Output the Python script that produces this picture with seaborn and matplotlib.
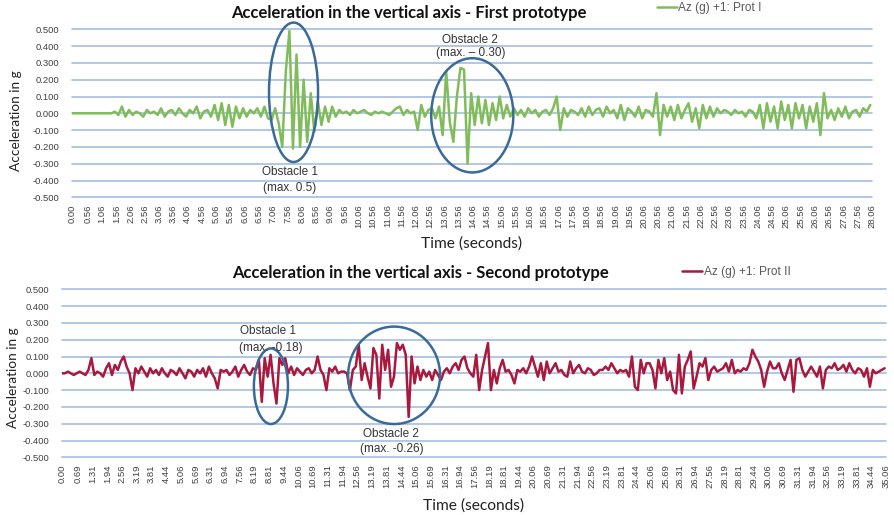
import numpy as np
import matplotlib
matplotlib.use("Agg")
import matplotlib.pyplot as plt
from matplotlib.patches import Ellipse
import seaborn as sns

step = 0.125  # seconds between the plotted samples

# Az (g) +1, first prototype -- one row per second
az_prot1 = [
    0.00, 0.00, 0.00, 0.00, 0.00, 0.00, 0.00, 0.00,
    0.00, 0.00, 0.00, 0.00, 0.01, -0.01, 0.04, -0.02,
    0.02, -0.01, 0.01, 0.00, -0.02, 0.02, 0.00, 0.01,
    -0.01, 0.03, -0.02, 0.01, 0.02, -0.01, 0.03, 0.00,
    -0.02, 0.02, 0.00, 0.04, -0.03, 0.01, 0.02, -0.02,
    0.05, -0.04, 0.06, -0.07, 0.05, -0.08, 0.04, -0.03,
    0.03, -0.02, 0.02, 0.00, 0.03, -0.02, 0.04, -0.03,
    -0.04, 0.03, -0.06, -0.20, 0.25, 0.49, -0.21, 0.35,
    -0.20, 0.20, -0.17, 0.12, -0.11, 0.07, -0.07, 0.04,
    -0.05, 0.04, -0.02, 0.02, 0.00, 0.01, -0.01, 0.02,
    0.00, 0.01, 0.02, 0.00, -0.01, 0.01, 0.00, 0.01,
    0.00, -0.01, 0.01, 0.03, 0.04, -0.01, 0.02, 0.00,
    0.01, -0.10, 0.05, -0.02, 0.02, 0.03, -0.03, 0.04,
    -0.13, 0.25, -0.05, -0.17, 0.10, 0.27, 0.26, -0.30,
    0.12, -0.07, 0.10, -0.06, 0.08, -0.07, 0.06, -0.04,
    0.10, -0.03, 0.05, -0.02, 0.03, -0.01, 0.02, -0.02,
    0.03, 0.00, 0.02, -0.02, 0.01, 0.02, -0.01, 0.03,
    0.10, -0.10, 0.03, -0.02, 0.02, 0.01, -0.01, 0.03,
    -0.02, 0.04, -0.01, 0.02, 0.03, -0.02, 0.04, 0.00,
    0.02, -0.03, 0.05, -0.04, 0.03, 0.01, -0.02, 0.04,
    -0.03, 0.02, 0.01, -0.02, 0.12, -0.13, 0.05, -0.02,
    0.04, -0.04, 0.05, -0.03, 0.02, 0.06, -0.05, 0.03,
    -0.09, 0.05, -0.03, 0.04, -0.02, 0.03, 0.00, 0.02,
    0.01, -0.01, 0.02, 0.00, 0.01, -0.02, 0.02, 0.01,
    -0.03, 0.05, -0.09, 0.06, -0.05, 0.04, -0.09, 0.07,
    -0.04, 0.05, -0.09, 0.06, -0.03, 0.05, -0.09, 0.04,
    -0.05, 0.06, -0.13, 0.12, -0.03, 0.02, -0.04, 0.03,
    -0.02, 0.04, -0.03, 0.01, 0.02, -0.02, 0.03, 0.01,
    0.05,
]

# Az (g) +1, second prototype -- one row per second
az_prot2 = [
    0.00, 0.00, 0.01, 0.00, -0.01, 0.00, 0.01, 0.00,
    -0.01, 0.02, 0.09, -0.01, 0.01, 0.00, -0.02, 0.03,
    0.06, -0.01, 0.05, 0.02, 0.07, 0.10, 0.04, 0.00,
    -0.10, 0.03, 0.00, 0.04, 0.01, -0.02, 0.03, 0.00,
    0.02, -0.01, 0.03, 0.00, -0.02, 0.02, 0.01, -0.01,
    0.03, 0.00, -0.03, 0.02, 0.01, -0.02, 0.02, 0.00,
    0.03, -0.02, 0.04, 0.00, -0.03, -0.09, 0.02, 0.01,
    0.02, -0.01, 0.01, 0.04, -0.02, 0.02, 0.05, 0.01,
    -0.01, 0.03, 0.02, 0.08, -0.17, 0.09, -0.02, 0.11,
    -0.06, -0.18, 0.09, 0.05, 0.09, 0.00, 0.04, -0.01,
    0.03, 0.01, -0.01, 0.02, 0.03, 0.00, 0.02, 0.10,
    0.02, -0.01, -0.10, 0.03, 0.01, 0.04, 0.00, 0.01,
    0.01, 0.00, -0.10, 0.02, 0.04, 0.17, -0.04, 0.06,
    -0.02, -0.09, 0.15, 0.11, -0.15, 0.17, 0.02, 0.14,
    -0.08, -0.02, 0.18, 0.14, 0.17, 0.11, -0.26, 0.10,
    -0.06, 0.04, -0.04, 0.02, -0.02, 0.01, -0.04, 0.02,
    -0.01, -0.04, 0.01, 0.03, 0.00, 0.04, 0.06, 0.02,
    0.08, 0.10, 0.03, 0.00, -0.02, 0.11, -0.10, 0.02,
    0.10, 0.18, -0.10, 0.02, -0.06, 0.03, 0.08, 0.01,
    0.02, -0.01, -0.06, 0.02, 0.01, 0.03, 0.00, 0.04,
    0.10, 0.04, -0.02, 0.06, -0.04, 0.07, 0.00, 0.03,
    0.06, 0.01, 0.02, -0.01, -0.02, 0.07, 0.00, 0.03,
    0.05, 0.01, 0.00, 0.03, 0.02, -0.01, 0.00, 0.02,
    0.02, 0.04, 0.02, 0.06, 0.03, 0.00, 0.02, 0.01,
    0.02, -0.02, 0.10, -0.08, -0.10, 0.08, 0.00, 0.06,
    0.06, 0.02, -0.09, 0.08, 0.00, 0.09, -0.04, 0.01,
    -0.10, -0.12, 0.11, -0.12, 0.04, 0.08, 0.13, -0.09,
    -0.02, 0.06, 0.04, 0.09, -0.04, 0.02, 0.04, 0.01,
    0.02, 0.03, 0.06, 0.01, 0.08, 0.00, 0.02, 0.01,
    0.03, 0.02, 0.06, 0.14, 0.10, 0.07, 0.02, -0.08,
    0.01, 0.07, 0.03, 0.03, 0.06, 0.00, -0.04, 0.02,
    0.08, -0.11, 0.08, 0.09, 0.02, -0.02, 0.01, 0.04,
    0.01, -0.02, 0.04, -0.09, 0.02, 0.04, 0.03, 0.06,
    0.02, 0.03, 0.05, 0.01, 0.06, 0.02, 0.00, 0.03,
    0.02, -0.02, 0.03, -0.08, 0.02, 0.00, 0.01, 0.02,
    0.03,
]

xticks_prot1 = ["0.00", "0.56", "1.06", "1.56", "2.06", "2.56", "3.06", "3.56", "4.06", "4.56",
                "5.06", "5.56", "6.06", "6.56", "7.06", "7.56", "8.06", "8.56", "9.06", "9.56",
                "10.06", "10.56", "11.06", "11.56", "12.06", "12.56", "13.06", "13.56", "14.06",
                "14.56", "15.06", "15.56", "16.06", "16.56", "17.06", "17.56", "18.06", "18.56",
                "19.06", "19.56", "20.06", "20.56", "21.06", "21.56", "22.06", "22.56", "23.06",
                "23.56", "24.06", "24.56", "25.06", "25.56", "26.06", "26.56", "27.06", "27.56",
                "28.06"]
xticks_prot2 = ["0.00", "0.69", "1.31", "1.94", "2.56", "3.19", "3.81", "4.44", "5.06", "5.69",
                "6.31", "6.94", "7.56", "8.19", "8.81", "9.44", "10.06", "10.69", "11.31", "11.94",
                "12.56", "13.19", "13.81", "14.44", "15.06", "15.69", "16.31", "16.94", "17.56",
                "18.19", "18.81", "19.44", "20.06", "20.69", "21.31", "21.94", "22.56", "23.19",
                "23.81", "24.44", "25.06", "25.69", "26.31", "26.94", "27.56", "28.19", "28.81",
                "29.44", "30.06", "30.69", "31.31", "31.94", "32.56", "33.19", "33.81", "34.44",
                "35.06"]
yticks = [-0.5, -0.4, -0.3, -0.2, -0.1, 0.0, 0.1, 0.2, 0.3, 0.4, 0.5]

sns.set_style("white")
plt.rcParams["font.family"] = ["Liberation Sans", "DejaVu Sans"]

GRID = "#a3bde0"
RING = "#3a6a9a"
TXT = "#404040"

fig = plt.figure(figsize=(8.94, 5.15), dpi=100)
W, H = 894.0, 515.0


def draw_panel(rect, values, ticks, color, legend_label, title, title_xy, legend_xy,
               xlabel_y, ylabel_x, ylabel_y, notes, rings):
    ax = fig.add_axes([rect[0] / W, 1 - rect[3] / H, (rect[2] - rect[0]) / W, (rect[3] - rect[1]) / H])
    t = np.arange(len(values)) * step
    for y in yticks:
        ax.axhline(y, color=GRID, lw=1.2, zorder=0, clip_on=False)
    sns.lineplot(x=t, y=values, ax=ax, color=color, lw=1.8, label=legend_label, zorder=3)
    ax.set_xlim(0, float(ticks[-1]))
    ax.set_ylim(-0.5, 0.5)
    ax.set_xticks([float(s) for s in ticks])
    ax.set_xticklabels(ticks, rotation=90, fontsize=6.8, color=TXT)
    ax.set_yticks(yticks)
    ax.set_yticklabels(["%.3f" % y for y in yticks], fontsize=6.8, color=TXT)
    ax.tick_params(axis="x", length=0, pad=5)
    ax.tick_params(axis="y", length=0, pad=9)
    for s in ax.spines.values():
        s.set_visible(False)
    ax.set_xlabel("Time (seconds)", family="Lato", fontsize=11.2, color="#222222")
    ax.xaxis.set_label_coords(0.5, xlabel_y)
    ax.set_ylabel("Acceleration in g", family="Lato", fontsize=9.8, color="#222222")
    ax.yaxis.set_label_coords(ylabel_x, ylabel_y)
    fig.text(title_xy[0] / W, 1 - title_xy[1] / H, title, family="Lato", weight="bold",
             fontsize=12, ha="center", va="center", color="#111111")
    ax.legend(loc="center left", bbox_to_anchor=(legend_xy[0] / W, 1 - legend_xy[1] / H),
              bbox_transform=fig.transFigure, frameon=False, fontsize=8.6, handlelength=1.7,
              handletextpad=0.1, borderpad=0, borderaxespad=0, labelcolor="#595959")
    for (cx, cy, w, h) in rings:
        ax.add_patch(Ellipse((cx, cy), w, h, fill=False, ec=RING, lw=1.8, zorder=4, clip_on=False))
    for (x, y, s) in notes:
        ax.text(x, y, s, ha="center", va="center", fontsize=8.5, color="#333333", zorder=5)
    return ax


draw_panel((72, 29.3, 872, 197.3), az_prot1, xticks_prot1, "#80bd5a", "Az (g) +1: Prot I",
           "Acceleration in the vertical axis - First prototype", (409, 13), (657, 8),
           -0.23, -0.062, 0.454,
           [(7.65, -0.35, "Obstacle 1"), (7.65, -0.445, "(max. 0.5)"),
            (13.96, 0.435, "Obstacle 2"), (14.0, 0.357, "(max. \u2013 0.30)")],
           [(7.77, 0.125, 1.72, 0.83), (14.04, -0.012, 2.88, 0.68)])

draw_panel((62, 289.3, 886, 457.3), az_prot2, xticks_prot2, "#a8193d", "Az (g) +1: Prot II",
           "Acceleration in the vertical axis - Second prototype", (420, 273), (682, 272),
           -0.242, -0.052, 0.472,
           [(8.77, 0.25, "Obstacle 1"), (8.89, 0.149, "(max. -0.18)"),
            (14.0, -0.363, "Obstacle 2"), (14.04, -0.452, "(max. -0.26)")],
           [(8.89, -0.077, 1.45, 0.45), (14.13, -0.012, 3.91, 0.58)])

fig.savefig("out.png", dpi=100)
